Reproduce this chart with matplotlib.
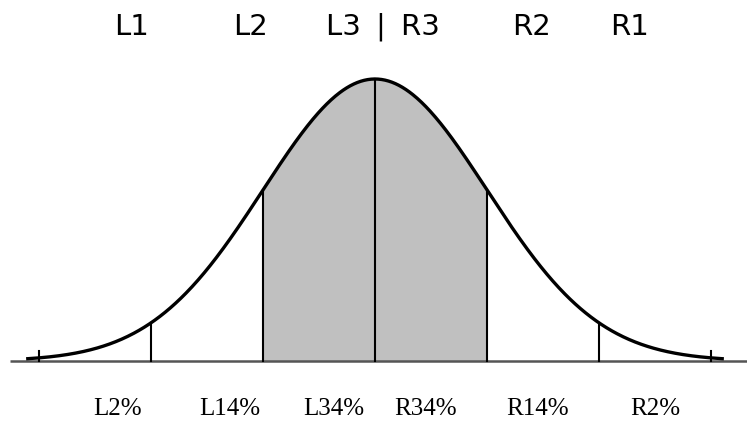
import numpy as np
import matplotlib
matplotlib.use("Agg")
import matplotlib.pyplot as plt

# Data
sigma_lines = [-2, -1, 0, 1, 2]
tick_marks = [-3, 3]
shade_range = (-1, 1)
top_labels = ["L1", "L2", "L3 \u2009| \u2009R3", "R2", "R1"]
top_label_pos = [-2.17, -1.116, 0.071, 1.40, 2.27]
bottom_labels = ["L2%", "L14%", "L34%", "R34%", "R14%", "R2%"]
bottom_label_pos = [-2.30, -1.30, -0.366, 0.455, 1.45, 2.50]

W, H = 747, 422
fig = plt.figure(figsize=(W / 100, H / 100), dpi=100)
ax = fig.add_axes([0, 0, 1, 1])
ax.axis("off")

px_per_sigma = 112.0
x0 = 375.0
base_y = 61.0          # px from bottom
peak_px = 282.0
ax.set_xlim(-x0 / px_per_sigma, (W - x0) / px_per_sigma)
ax.set_ylim(-base_y / peak_px, (H - base_y) / peak_px)

def pdf(x):
    return np.exp(-0.5 * np.asarray(x) ** 2)

x = np.linspace(-3.1, 3.1, 800)
# shading
xs = np.linspace(shade_range[0], shade_range[1], 300)
ax.fill_between(xs, 0, pdf(xs), color="#c0c0c0", lw=0, zorder=1)

# baseline
ax.plot([-(x0 - 10) / px_per_sigma, (W - x0) / px_per_sigma], [0, 0],
        color="#555555", lw=1.8, zorder=2, solid_capstyle="butt")

# curve
ax.plot(x, pdf(x), color="black", lw=2.4, zorder=4)

# vertical lines
for s in sigma_lines:
    ax.plot([s, s], [0, pdf(s)], color="black", lw=1.5, zorder=3)

# small ticks
for s in tick_marks:
    ax.plot([s, s], [0, 10 / peak_px], color="black", lw=1.5, zorder=3)

# top labels
for lab, p in zip(top_labels, top_label_pos):
    ax.text(p, (H - 27 - base_y) / peak_px, lab, ha="center", va="center",
            fontsize=21, family="DejaVu Sans", color="black")

# bottom labels
for lab, p in zip(bottom_labels, bottom_label_pos):
    ax.text(p, (H - 409 - base_y) / peak_px, lab, ha="center", va="center",
            fontsize=18, family="Liberation Serif", color="black")

fig.savefig("out.png", dpi=100)
